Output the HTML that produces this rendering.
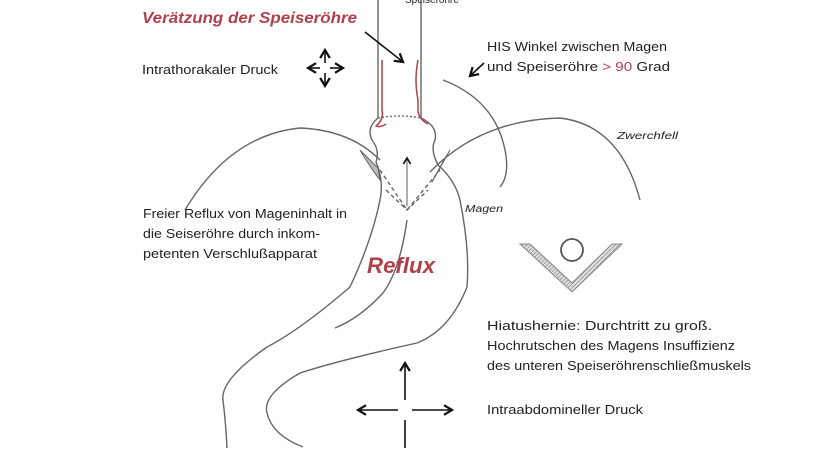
<!DOCTYPE html>
<html><head><meta charset="utf-8"><style>
body{margin:0;width:822px;height:448px;overflow:hidden;background:#fff;font-family:"Liberation Sans",sans-serif;}
</style></head><body>
<svg width="822" height="448" viewBox="0 0 822 448" xmlns="http://www.w3.org/2000/svg" font-family="Liberation Sans, sans-serif">
<defs><marker id="a" markerWidth="8" markerHeight="8" refX="6" refY="4" orient="auto"><path d="M1,1 L6,4 L1,7" fill="none" stroke="#111" stroke-width="1.4"/></marker>
<pattern id="h" width="4" height="4" patternUnits="userSpaceOnUse"><rect width="4" height="4" fill="#ddd"/><path d="M0,4 L4,0" stroke="#999" stroke-width="0.8"/></pattern></defs>
<g fill="none" stroke="#666" stroke-width="1.4">
<path d="M378,0 V118 Q366,128 372,140 Q380,150 376,162 Q384,180 380,200 Q372,240 350,287 Q300,330 267,347 Q220,380 223,400 Q226,425 227,448"/>
<path d="M421,0 V118 Q438,126 435,140 Q430,150 438,165 Q455,180 460,200 Q470,250 467,287 Q450,330 417,343 Q340,360 300,373 Q262,395 267,413 Q272,435 303,447"/>
<path d="M407,220 Q400,270 383,293 Q360,318 335,328"/>
<path d="M378,118 Q400,114 421,118" stroke-dasharray="2,2"/>
<path d="M185,210 Q230,135 300,128 Q350,130 380,160"/>
<path d="M430,172 Q480,120 560,118 Q620,125 640,200"/>
<path d="M443,80 Q495,100 505,150 Q510,175 500,187"/>
<path d="M380,170 L407,210 L440,170" stroke-dasharray="4,3"/>
<path d="M386,190 L407,210 L428,190" stroke-dasharray="4,3"/>
</g>
<path d="M360,150 Q372,170 380,180 L378,168 Z" fill="#bbb" stroke="#666"/>
<path d="M450,150 Q438,170 432,182 L440,168 Z" fill="#bbb" stroke="#666"/>
<path d="M407,206 V158" stroke="#777" stroke-width="1.2" marker-end="url(#a)"/>
<g stroke="#b0404a" stroke-width="1.5" fill="none">
<path d="M382,60 V110 Q384,120 376,126 Q380,128 386,124"/>
<path d="M418,60 Q414,80 418,100 V112 Q420,120 428,124"/>
</g>
<path d="M520,244 L530,244 L572,283 L612,244 L622,244 L572,292 Z" fill="url(#h)" stroke="#888"/>
<circle cx="572" cy="250" r="11" fill="none" stroke="#555" stroke-width="1.8"/>
<g stroke="#111" stroke-width="1.6" fill="none">
<line x1="365" y1="32" x2="403" y2="62" marker-end="url(#a)"/>
<line x1="484" y1="63" x2="470" y2="76" marker-end="url(#a)"/>
<line x1="325" y1="63" x2="325" y2="50" marker-end="url(#a)"/>
<line x1="325" y1="73" x2="325" y2="86" marker-end="url(#a)"/>
<line x1="320" y1="68" x2="308" y2="68" marker-end="url(#a)"/>
<line x1="330" y1="68" x2="343" y2="68" marker-end="url(#a)"/>
<line x1="405" y1="400" x2="405" y2="363" marker-end="url(#a)"/>
<line x1="405" y1="420" x2="405" y2="448"/>
<line x1="398" y1="410" x2="358" y2="410" marker-end="url(#a)"/>
<line x1="412" y1="410" x2="452" y2="410" marker-end="url(#a)"/>
</g>
<g font-size="12.5" fill="#222" lengthAdjust="spacingAndGlyphs">
<text x="405" y="3" font-size="10">Speiseröhre</text>
<text x="142" y="74" textLength="136" lengthAdjust="spacingAndGlyphs">Intrathorakaler Druck</text>
<text x="487" y="51" textLength="180" lengthAdjust="spacingAndGlyphs">HIS Winkel zwischen Magen</text>
<text x="487" y="71" textLength="183" lengthAdjust="spacingAndGlyphs">und Speiseröhre <tspan fill="#b0404a">&gt; 90</tspan> Grad</text>
<text x="617" y="139" font-size="10" font-style="italic" textLength="61" lengthAdjust="spacingAndGlyphs">Zwerchfell</text>
<text x="465" y="212" font-size="10" font-style="italic" textLength="38" lengthAdjust="spacingAndGlyphs">Magen</text>
<text x="143" y="218" textLength="204" lengthAdjust="spacingAndGlyphs">Freier Reflux von Mageninhalt in</text>
<text x="143" y="238" textLength="177" lengthAdjust="spacingAndGlyphs">die Seiseröhre durch inkom-</text>
<text x="143" y="258" textLength="174" lengthAdjust="spacingAndGlyphs">petenten Verschlußapparat</text>
<text x="487" y="330" textLength="225" lengthAdjust="spacingAndGlyphs">Hiatushernie: Durchtritt zu groß.</text>
<text x="487" y="350" textLength="248" lengthAdjust="spacingAndGlyphs">Hochrutschen des Magens Insuffizienz</text>
<text x="487" y="370" textLength="264" lengthAdjust="spacingAndGlyphs">des unteren Speiseröhrenschließmuskels</text>
<text x="487" y="414" textLength="156" lengthAdjust="spacingAndGlyphs">Intraabdomineller Druck</text>
</g>
<text x="142" y="23" font-size="16" font-weight="bold" font-style="italic" fill="#b0404a" textLength="215" lengthAdjust="spacingAndGlyphs">Verätzung der Speiseröhre</text>
<text x="367" y="273" font-size="22" font-weight="bold" font-style="italic" fill="#b0404a" textLength="68" lengthAdjust="spacingAndGlyphs">Reflux</text>
</svg>
</body></html>
